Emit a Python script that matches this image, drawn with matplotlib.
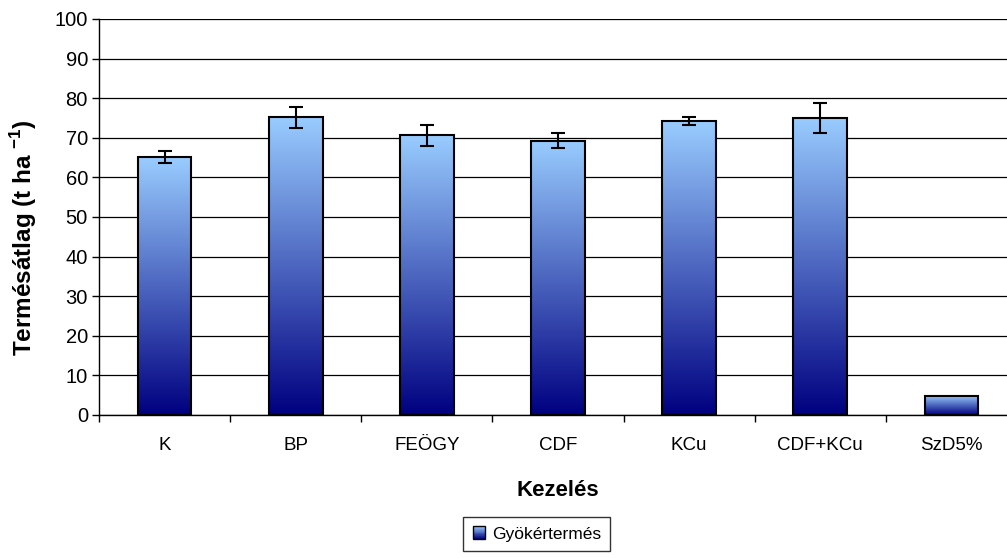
import numpy as np
import matplotlib.pyplot as plt
from matplotlib.colors import LinearSegmentedColormap
from matplotlib.patches import Rectangle
from matplotlib.legend_handler import HandlerBase

plt.rcParams['font.family'] = ['Liberation Sans', 'DejaVu Sans']
plt.rcParams['mathtext.fontset'] = 'custom'
plt.rcParams['mathtext.rm'] = 'Liberation Sans'
plt.rcParams['mathtext.bf'] = 'Liberation Sans:bold'

# --- adatok ---
kezelesek = ["K", "BP", "FEÖGY", "CDF", "KCu", "CDF+KCu", "SzD5%"]
termes = [65.1, 75.2, 70.6, 69.3, 74.2, 75.1, 4.8]
hiba = [1.5, 2.6, 2.6, 1.8, 1.0, 3.8, 0.0]

W, H = 1007, 558
cmap = LinearSegmentedColormap.from_list("grad", ["#000080", "#99CCFF"])
grad = np.linspace(0, 1, 256).reshape(-1, 1)


class GradHandler(HandlerBase):
    # kis színátmenetes négyzet a jelmagyarázatba
    def create_artists(self, legend, orig_handle, xdescent, ydescent,
                       width, height, fontsize, trans):
        n = 14
        arts = []
        for i in range(n):
            arts.append(Rectangle((-xdescent, -ydescent + i * height / n), width,
                                  height / n, facecolor=cmap((i + 0.5) / n),
                                  edgecolor='none', transform=trans))
        arts.append(Rectangle((-xdescent, -ydescent), width, height,
                              facecolor='none', edgecolor='black', lw=1,
                              transform=trans))
        return arts


fig = plt.figure(figsize=(W / 100, H / 100), dpi=100)
# a tengely jobb széle túlnyúlik a képen (mint az eredetin)
ax = fig.add_axes([99 / W, 1 - 415 / H, 918 / W, 396 / H])

x = np.arange(len(kezelesek))
bars = ax.bar(x, termes, width=0.41, facecolor='none', edgecolor='black',
              linewidth=1.5, zorder=3)
for b in bars:
    x0, y0 = b.get_x(), b.get_y()
    im = ax.imshow(grad, cmap=cmap, origin='lower', aspect='auto',
                   extent=[x0, x0 + b.get_width(), y0, y0 + b.get_height()],
                   zorder=2)
    im.set_clip_path(b)

for xi, yi, e in zip(x, termes, hiba):
    if e > 0:
        ax.errorbar(xi, yi, yerr=e, fmt='none', ecolor='black', elinewidth=1.5,
                    capsize=5.2, capthick=1.5, zorder=4)

ax.set_xlim(-0.5, len(kezelesek) - 0.5)
ax.set_ylim(0, 100)
ax.set_yticks(np.arange(0, 101, 10))
ax.set_xticks(x)
ax.set_xticklabels(kezelesek)
ax.set_xticks(np.arange(-0.5, len(kezelesek)), minor=True)
ax.tick_params(axis='x', which='major', length=0, pad=16, labelsize=13.5)
ax.tick_params(axis='x', which='minor', length=5, width=1, direction='out')
ax.tick_params(axis='y', length=5, width=1, direction='out', labelsize=14.5, pad=3)

ax.grid(axis='y', color='black', linewidth=0.9, zorder=1)
ax.set_axisbelow(True)
for s in ['top', 'right']:
    ax.spines[s].set_visible(False)
ax.spines['left'].set_linewidth(1)
ax.spines['bottom'].set_linewidth(1)

ax.set_ylabel(r"Termésátlag (t ha $^{\mathbf{-1}}$)", fontsize=17.5,
              fontweight='bold', va='center')
ax.yaxis.set_label_coords((24 - 99) / 918, (415 - 238) / 396)
fig.text(558 / W, 1 - 490 / H, "Kezelés", fontsize=16, fontweight='bold',
         ha='center', va='center')

fig.legend([object()], ["Gyökértermés"], handler_map={object: GradHandler()},
           loc='center left', bbox_to_anchor=(463 / W, 1 - 534 / H),
           frameon=True, fancybox=False, edgecolor='black', fontsize=12.5,
           handlelength=0.7, handleheight=0.7, handletextpad=0.4,
           borderpad=0.55, borderaxespad=0)

fig.savefig("out.png", dpi=100)
